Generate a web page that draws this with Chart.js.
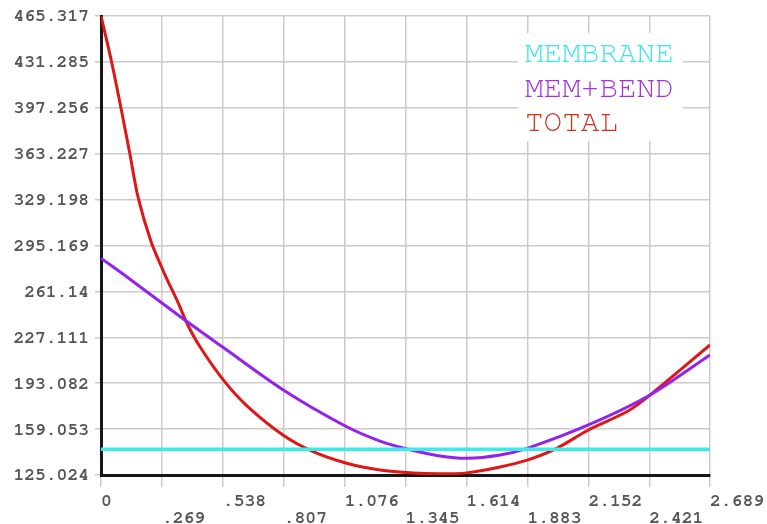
<!DOCTYPE html>
<html>
<head>
<meta charset="utf-8">
<title>Stress linearization along path</title>
<script src="https://cdn.jsdelivr.net/npm/chart.js@4/dist/chart.umd.min.js"></script>
<style>
  html, body { margin: 0; padding: 0; background: #ffffff; }
  #wrap { width: 767px; height: 524px; position: relative; }
</style>
</head>
<body>
<div id="wrap"><canvas id="c" width="767" height="524"></canvas></div>
<script>
// Distance along the path and linearized stress values
const membraneX = [0, 2.689];
const membraneY = [144.1, 144.1];

const memBendX = [0, 0.128, 0.349, 0.540, 0.805, 1.070, 1.232, 1.379, 1.497, 1.615, 1.762, 1.882, 2.152, 2.424, 2.689];
const memBendY = [285.7, 270.2, 242.5, 219.5, 188.0, 162.1, 150.2, 143.2, 139.1, 137.4, 139.9, 144.8, 162.1, 184.3, 214.0];

const totalX = [0, 0.045, 0.090, 0.127, 0.163, 0.222, 0.281, 0.340, 0.381, 0.437, 0.540, 0.643, 0.805, 0.937, 1.085, 1.232, 1.379, 1.497, 1.615, 1.762, 1.882, 2.012, 2.152, 2.321, 2.424, 2.689];
const totalY = [465.3, 432.7, 395.6, 363.5, 331.4, 297.5, 274.0, 253.0, 237.0, 220.1, 195.5, 176.5, 154.5, 142.3, 133.7, 128.7, 126.5, 125.9, 126.6, 131.0, 136.1, 144.8, 158.4, 171.9, 184.3, 221.4];

// Axis tick values and their printed labels
const xTickValues = [0, 0.269, 0.538, 0.807, 1.076, 1.345, 1.614, 1.883, 2.152, 2.421, 2.689];
const xTickLabels = ['0', '.269', '.538', '.807', '1.076', '1.345', '1.614', '1.883', '2.152', '2.421', '2.689'];
const yTickValues = [125.024, 159.053, 193.082, 227.111, 261.14, 295.169, 329.198, 363.227, 397.256, 431.285, 465.317];
const yTickLabels = ['125.024', '159.053', '193.082', '227.111', '261.14', '295.169', '329.198', '363.227', '397.256', '431.285', '465.317'];

const seriesNames = ['MEMBRANE', 'MEM+BEND', 'TOTAL'];
const lineColors = ['#38ecec', '#9422ee', '#e01616'];
const textColors = ['#3ee4ea', '#a032e0', '#d2301e'];

const pts = (xs, ys) => xs.map((x, i) => ({ x: x, y: ys[i] }));

const monoFont = '"Nimbus Mono PS", "Nimbus Mono L", FreeMono, "Courier 10 Pitch", "Liberation Mono", "Courier New", monospace';
const gridGrey = '#cbcbcb';
const tickText = '#555555';

// Key box in the upper right corner of the plot, drawn over the grid
const keyBox = {
  id: 'keyBox',
  beforeDatasetsDraw(chart) {
    const { ctx, chartArea } = chart;
    const left = chartArea.right - 192;
    const top = chartArea.top + 17;
    ctx.save();
    ctx.fillStyle = '#ffffff';
    ctx.fillRect(left, top, 165, 108);
    ctx.font = '31px ' + monoFont;
    ctx.textBaseline = 'middle';
    ctx.textAlign = 'left';
    const rows = [37, 72, 106];
    seriesNames.forEach((name, i) => {
      ctx.fillStyle = textColors[i];
      ctx.fillText(name, left + 7, chartArea.top + rows[i]);
    });
    ctx.restore();
  }
};

new Chart(document.getElementById('c'), {
  type: 'line',
  data: {
    datasets: [
      { label: seriesNames[0], data: pts(membraneX, membraneY), borderColor: lineColors[0], borderWidth: 3.5, pointRadius: 0, tension: 0 },
      { label: seriesNames[1], data: pts(memBendX, memBendY), borderColor: lineColors[1], borderWidth: 3, pointRadius: 0, tension: 0.3 },
      { label: seriesNames[2], data: pts(totalX, totalY), borderColor: lineColors[2], borderWidth: 3, pointRadius: 0, tension: 0.25 }
    ]
  },
  options: {
    responsive: false,
    animation: false,
    events: [],
    layout: { padding: { left: 0, top: 16, right: 57, bottom: 0 } },
    plugins: { legend: { display: false }, tooltip: { enabled: false } },
    scales: {
      x: {
        type: 'linear',
        min: 0,
        max: 2.689,
        afterBuildTicks(scale) { scale.ticks = xTickValues.map(v => ({ value: v })); },
        afterFit(scale) {
          scale.height = 49;
          scale.paddingLeft = 0;
          scale.paddingRight = 0;
        },
        ticks: {
          autoSkip: false,
          maxRotation: 0,
          align: 'start',
          padding: 5,
          color: tickText,
          font: { family: monoFont, size: 18, weight: 'bold', lineHeight: 0.93 },
          callback(value, index) {
            const lbl = xTickLabels[index];
            return index % 2 ? ['', lbl] : lbl;
          }
        },
        grid: { color: gridGrey, lineWidth: 1.5, tickLength: 12, tickColor: gridGrey, drawTicks: true },
        border: { display: true, color: '#161616', width: 3 }
      },
      y: {
        type: 'linear',
        min: 125.024,
        max: 465.317,
        afterBuildTicks(scale) { scale.ticks = yTickValues.map(v => ({ value: v })); },
        afterFit(scale) {
          scale.width = 101;
          scale.paddingTop = 0;
          scale.paddingBottom = 0;
        },
        ticks: {
          autoSkip: false,
          padding: 6,
          color: tickText,
          font: { family: monoFont, size: 18, weight: 'bold' },
          callback(value, index) { return yTickLabels[index]; }
        },
        grid: { color: gridGrey, lineWidth: 1.5, tickLength: 6, tickColor: gridGrey, drawTicks: true },
        border: { display: true, color: '#161616', width: 3 }
      }
    }
  },
  plugins: [keyBox]
});
</script>
</body>
</html>
